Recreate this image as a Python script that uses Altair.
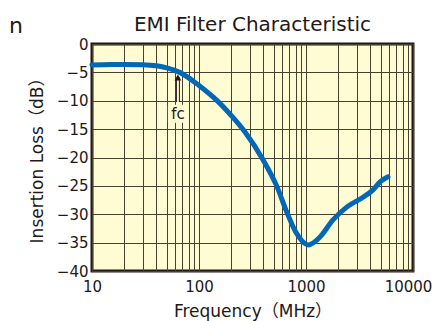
import altair as alt
import pandas as pd

# Data
freq_mhz = [10, 15, 20, 30, 40, 50, 66, 100, 146, 200, 269, 394, 532, 661, 800, 1050,
            1352, 1787, 2415, 3410, 4230, 4920, 5835]
loss_db = [-3.7, -3.6, -3.6, -3.65, -3.85, -4.2, -5.0, -7.3, -9.9, -12.6, -15.5, -20.3, -25.0,
           -29.6, -33.1, -35.4, -34.0, -31.0, -28.7, -27.0, -25.7, -24.3, -23.4]

x_grid = [10, 20, 30, 40, 50, 60, 70, 80, 90,
          100, 200, 300, 400, 500, 600, 700, 800, 900,
          1000, 2000, 3000, 4000, 5000, 6000, 7000, 8000, 9000, 10000]
x_labels = [10, 100, 1000, 10000]
y_ticks = [0, -5, -10, -15, -20, -25, -30, -35, -40]

fc_freq = [63.5]
fc_arrow_top = [-5.9]
fc_arrow_bottom = [-10.2]
fc_label_y = [-12.3]

title_text = "EMI Filter Characteristic"
x_title = "Frequency\uff08MHz\uff09"
y_title = "Insertion Loss\uff08dB\uff09"
corner_text = "n"

BG = "#fffbd2"
GRID = "#4a4030"
DARK = "#231815"
BLUE = "#0068b7"
TXT = "#231815"
FONT = "DejaVu Sans, Noto Sans CJK JP"

curve = pd.DataFrame({"f": freq_mhz, "db": loss_db})
fc = pd.DataFrame({"f": fc_freq, "top": fc_arrow_top, "bottom": fc_arrow_bottom, "label": fc_label_y})

xscale = alt.Scale(type="log", domain=[10, 10000])
yscale = alt.Scale(domain=[-40, 0])

label_expr = "indexof(" + str(x_labels) + ", datum.value) >= 0 ? format(datum.value, 'd') : ''"

xax = alt.Axis(values=x_grid, labelExpr=label_expr, grid=True, gridColor=GRID, gridWidth=1,
               gridOpacity=1, ticks=False, domain=False, labelFont=FONT, labelFontSize=15,
               labelColor=TXT, labelPadding=8, title=x_title, titleFont=FONT,
               titleFontSize=17, titleFontWeight="normal", titleColor=TXT, titlePadding=9,
               labelFlush=False, labelOverlap=False,
               labelOffset={"condition": {"test": "datum.value == 10000", "value": -5}, "value": 0})
yax = alt.Axis(values=y_ticks, grid=True, gridColor=GRID, gridWidth=1.2, gridOpacity=1,
               ticks=False, domain=False, labelFont=FONT, labelFontSize=15, labelColor=TXT,
               labelPadding=4, labelOverlap=False, title=y_title, titleFont=FONT, titleFontSize=17,
               titleFontWeight="normal", titleColor=TXT, titlePadding=10, titleY=112)

X = alt.X("f:Q", scale=xscale, axis=xax)

line = alt.Chart(curve).mark_line(color=BLUE, strokeWidth=5, interpolate="monotone",
                                  strokeCap="round", strokeJoin="round").encode(
    x=X,
    y=alt.Y("db:Q", scale=yscale, axis=yax),
)

label_box = alt.Chart(fc).mark_rect(color=BG, width=20, height=18).encode(
    x=X, y=alt.Y("label:Q", scale=yscale, axis=yax))
label_txt = alt.Chart(fc).mark_text(text="fc", font=FONT, fontSize=15, color=TXT).encode(
    x=X, y=alt.Y("label:Q", scale=yscale, axis=yax))
shaft_outer = alt.Chart(fc).mark_rule(color=DARK, strokeWidth=4).encode(
    x=X, y=alt.Y("top:Q", scale=yscale, axis=yax), y2="bottom:Q")
shaft_inner = alt.Chart(fc).mark_rule(color=BG, strokeWidth=2).encode(
    x=X, y=alt.Y("top:Q", scale=yscale, axis=yax), y2="bottom:Q")
head = alt.Chart(fc).mark_point(shape="triangle-up", filled=True, color=DARK, size=45, opacity=1).encode(
    x=X, y=alt.Y("top:Q", scale=yscale, axis=yax))

corner = alt.Chart(fc).mark_text(text=corner_text, font=FONT, fontSize=22, color=TXT, align="left",
                                 baseline="alphabetic").encode(x=alt.value(-83), y=alt.value(-11))
title = alt.Chart(fc).mark_text(text=title_text, font=FONT, fontSize=20, color=TXT, align="center",
                                baseline="alphabetic").encode(x=alt.value(160.5), y=alt.value(-13))

chart = alt.layer(line, shaft_outer, shaft_inner, head, label_box, label_txt, corner, title).properties(
    width=321, height=227,
    autosize=alt.AutoSizeParams(type="none"),
    padding={"left": 84, "top": 36, "right": 20, "bottom": 50},
).configure_view(fill=BG, stroke=DARK, strokeWidth=3)

chart.save("out.html", embed_options={"renderer": "svg", "actions": False})
